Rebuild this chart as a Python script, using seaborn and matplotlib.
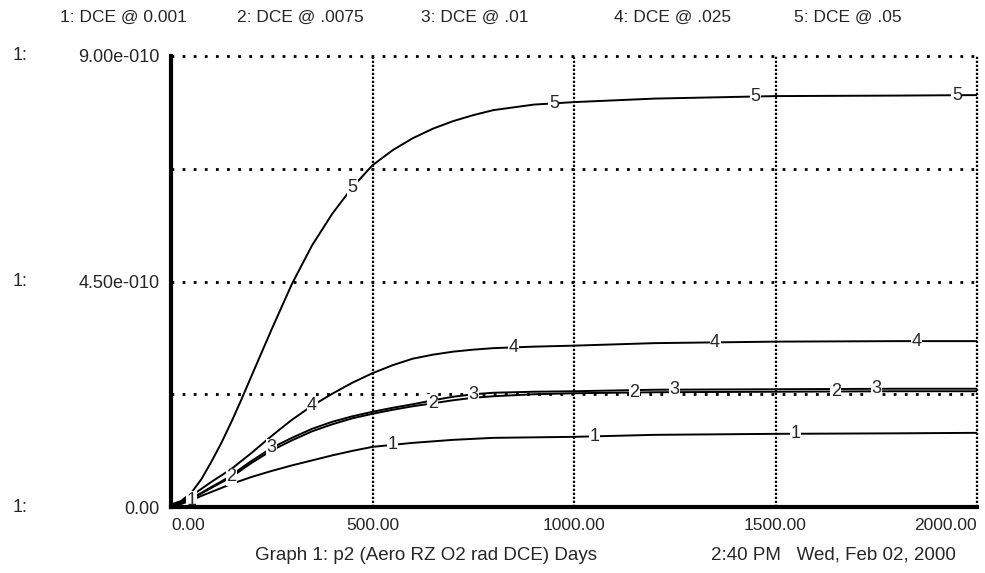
import numpy as np
import pandas as pd
import seaborn as sns
import matplotlib.pyplot as plt
from matplotlib import transforms

# simulation output, values in units of 1e-10
days = [0, 25, 50, 75, 100, 125, 150, 175, 200, 250, 300, 350, 400, 450, 500,
        550, 600, 650, 700, 750, 800, 900, 1000, 1200, 1500, 1800, 2000]
dce_0001 = [0.02, 0.06, 0.13, 0.22, 0.30, 0.38, 0.46, 0.53, 0.60, 0.72, 0.83, 0.93,
            1.03, 1.12, 1.20, 1.24, 1.28, 1.31, 1.34, 1.36, 1.38, 1.39, 1.40, 1.44,
            1.46, 1.47, 1.48]
dce_0075 = [0.03, 0.08, 0.16, 0.27, 0.38, 0.49, 0.60, 0.74, 0.88, 1.13, 1.33, 1.51,
            1.65, 1.77, 1.86, 1.94, 2.01, 2.07, 2.13, 2.18, 2.21, 2.25, 2.27, 2.29,
            2.30, 2.31, 2.31]
dce_01 = [0.03, 0.08, 0.17, 0.28, 0.40, 0.51, 0.63, 0.78, 0.92, 1.18, 1.38, 1.56,
          1.70, 1.81, 1.90, 1.98, 2.05, 2.13, 2.20, 2.25, 2.28, 2.30, 2.31, 2.34,
          2.35, 2.36, 2.36]
dce_025 = [0.04, 0.10, 0.22, 0.36, 0.50, 0.63, 0.76, 0.92, 1.08, 1.42, 1.74, 2.02,
           2.26, 2.48, 2.67, 2.83, 2.96, 3.04, 3.10, 3.14, 3.17, 3.20, 3.22, 3.27,
           3.30, 3.31, 3.31]
dce_05 = [0.05, 0.12, 0.28, 0.55, 0.90, 1.28, 1.70, 2.15, 2.62, 3.55, 4.45, 5.22,
          5.85, 6.38, 6.82, 7.12, 7.36, 7.55, 7.70, 7.82, 7.92, 8.03, 8.08, 8.15,
          8.20, 8.21, 8.22]

series = [dce_0001, dce_0075, dce_01, dce_025, dce_05]
legend_names = ["1: DCE @ 0.001", "2: DCE @ .0075", "3: DCE @ .01",
                "4: DCE @ .025", "5: DCE @ .05"]
x_ticks = [0, 500, 1000, 1500, 2000]
y_ticks = [0, 2.25e-10, 4.5e-10, 6.75e-10, 9e-10]
y_tick_labels = ["0.00", "", "4.50e-010", "", "9.00e-010"]

sns.set_style("white")
plt.rcParams['font.family'] = ['Liberation Sans', 'DejaVu Sans']
FS = 12.5

frames = []
for i, vals in enumerate(series):
    frames.append(pd.DataFrame({"Days": days,
                                "value": np.array(vals) * 1e-10,
                                "series": str(i + 1)}))
data = pd.concat(frames, ignore_index=True)

fig = plt.figure(figsize=(9.85, 5.73), dpi=100)
ax = fig.add_axes([171 / 985, 1 - 507 / 573, (977 - 171) / 985, (507 - 56) / 573])

sns.lineplot(data=data, x="Days", y="value", hue="series", palette=["black"] * 5,
             legend=False, linewidth=1.4, estimator=None, ax=ax)

ax.set_xlim(0, 2000)
ax.set_ylim(0, 9e-10)
ax.set_xlabel("")
ax.set_ylabel("")

ax.set_xticks(x_ticks)
xl = ax.set_xticklabels([f"{v:.2f}" for v in x_ticks], fontsize=FS)
xl[0].set_ha("left")
xl[-1].set_ha("right")
ax.set_yticks(y_ticks)
ax.set_yticklabels(y_tick_labels, fontsize=13)
ax.tick_params(direction="out", length=6, width=2.5, color="black", pad=2)

for side in ["top", "right"]:
    ax.spines[side].set_visible(False)
for side in ["left", "bottom"]:
    ax.spines[side].set_linewidth(3)
    ax.spines[side].set_color("black")
    ax.spines[side].set_zorder(6)

ax.xaxis.grid(True, color="black", linestyle=(0, (1, 0.8)), linewidth=1.6)
ax.yaxis.grid(True, color="black", linestyle=(0, (1, 3)), linewidth=2)
for gl in ax.get_xgridlines() + ax.get_ygridlines():
    gl.set_clip_on(False)

# numbered markers along each curve
for i, vals in enumerate(series):
    for k in range(4):
        d = 50 + 100 * i + 500 * k
        y = np.interp(d, days, vals) * 1e-10
        ax.text(d, y, str(i + 1), ha="center", va="center", fontsize=13, zorder=5,
                bbox=dict(facecolor="white", edgecolor="none", pad=0.4))

# "1:" scale markers on the left
trans = transforms.blended_transform_factory(fig.transFigure, ax.transData)
for v in [0, 4.5e-10, 9e-10]:
    ax.text(13 / 985, v, "1:", transform=trans, ha="left", va="center", fontsize=13)

# legend row on top
legend_x = [60, 237, 421, 614, 794]
for name, x in zip(legend_names, legend_x):
    fig.text(x / 985, 1 - 17 / 573, name, ha="left", va="center", fontsize=FS)

fig.text(255 / 985, 1 - 555 / 573, "Graph 1: p2 (Aero RZ O2 rad DCE) Days",
         ha="left", va="center", fontsize=13.5)
fig.text(711 / 985, 1 - 555 / 573, "2:40 PM   Wed, Feb 02, 2000",
         ha="left", va="center", fontsize=13.5)

fig.savefig("out.png", dpi=100)
